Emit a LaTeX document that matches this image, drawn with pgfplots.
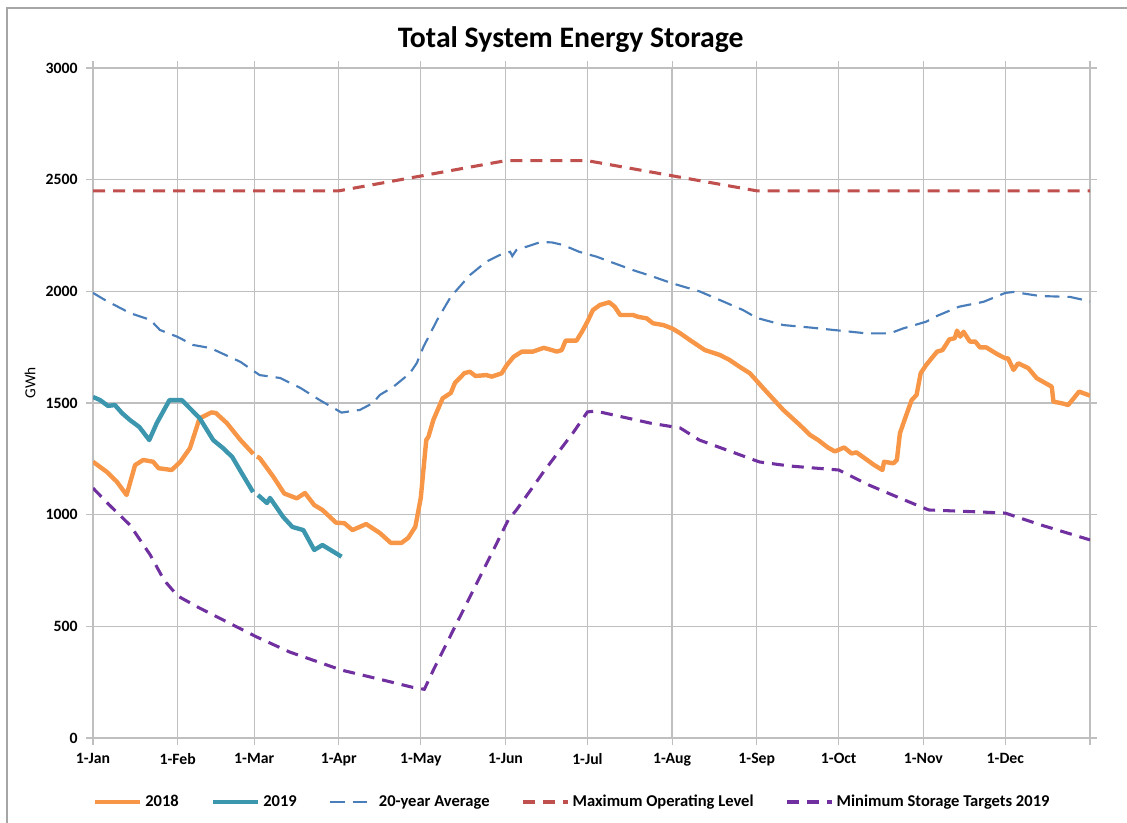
\documentclass[border=0pt]{standalone}
\usepackage{fontspec}
\setmainfont{Carlito}
\usepackage{pgfplots}
\pgfplotsset{compat=1.18}
\definecolor{c2018}{HTML}{F79646}
\definecolor{c2019}{HTML}{3C97AE}
\definecolor{cavg}{HTML}{4A7EBB}
\definecolor{cmax}{HTML}{C0504D}
\definecolor{cmin}{HTML}{7030A0}
\definecolor{gridc}{HTML}{BFBFBF}
\definecolor{framec}{HTML}{A6A6A6}
\begin{document}
\begin{tikzpicture}
\useasboundingbox (0,0) rectangle (845.25pt,616.5pt);
\draw[framec,line width=1.3pt] (5.25pt,-1pt) -- (5.25pt,610.5pt) -- (846pt,610.5pt);
\node[font=\bfseries\fontsize{22.3}{26}\selectfont] at (428pt,586.5pt) {Total System Energy Storage};
\begin{axis}[
  at={(69.75pt,63pt)}, anchor=south west,
  scale only axis, width=747.75pt, height=502.5pt,
  xmin=0, xmax=365, ymin=0, ymax=3000,
  xtick={0,31,59,90,120,151,181,212,243,273,304,334,365},
  xticklabels={1-Jan,1-Feb,1-Mar,1-Apr,1-May,1-Jun,1-Jul,1-Aug,1-Sep,1-Oct,1-Nov,1-Dec,},
  ytick={0,500,1000,1500,2000,2500,3000},
  /pgf/number format/assume math mode=true,
  /pgf/number format/1000 sep={},
  ticklabel style={font=\bfseries\fontsize{11.8}{14}\selectfont},
  xticklabel style={yshift=-3pt},
  yticklabel style={xshift=-3pt},
  tick align=outside, major tick length=5pt,
  tick style={gridc, line width=0.8pt},
  grid=major, grid style={gridc, line width=0.9pt},
  axis line style={gridc, line width=0.9pt},
  ylabel={GWh},
  ylabel style={at={(axis description cs:-0.063,0.53)}, anchor=center, font=\fontsize{11.5}{13}\selectfont},
  unbounded coords=jump,
  legend columns=5,
  legend style={at={(axis description cs:0.481,-0.0955)}, anchor=center, draw=none, fill=none,
    font=\bfseries\fontsize{12.4}{14}\selectfont, /tikz/every even column/.append style={column sep=22pt}},
  legend image code/.code={\draw[#1] plot coordinates {(0pt,0pt) (17pt,0pt) (34pt,0pt)};},
  clip=true,
]
\addplot[c2018, line width=3.3pt, line join=round] coordinates {
(0,1237)(5,1192)(8.7,1148)(12.3,1088)(15.4,1222)(18.4,1245)(22,1237)(24,1208)(28.8,1200)(32,1237)
(35.5,1298)(39,1431)(43.4,1458)(45,1455)(49,1410)(54,1334)(58.7,1272)(59,nan)(60,1260)(61,1254)(66,1170)
(70,1095)(74.6,1073)(77.6,1097)(81,1043)(84,1021)(89,964)(92,962)(95,931)(100,958)(105,918)
(109,874)(113,874)(115.4,896)(118,946)(120,1075)(122,1334)(122.8,1349)(124.6,1424)(128,1521)(131,1545)
(132.5,1590)(136,1634)(138,1640)(140,1621)(144,1625)(146,1618)(149.6,1633)(151.5,1670)(154,1707)(157,1730)
(161,1730)(165,1747)(168,1737)(169.8,1730)(171.6,1737)(173,1779)(177,1779)(179,1819)(181,1864)(183,1916)
(185.6,1939)(189,1951)(191,1931)(193,1894)(197.7,1894)(199.5,1886)(202.7,1879)(205,1857)(208.8,1849)(212,1834)
(215,1812)(218.5,1782)(224,1737)(229.5,1715)(233,1693)(237,1660)(240.5,1633)(245.4,1566)(252.7,1469)(258.8,1401)
(262.5,1357)(265.5,1334)(269,1301)(271.6,1283)(275,1301)(277.7,1274)(279.5,1279)(282.6,1252)(286,1222)(289,1200)
(289.6,1237)(293,1230)(294.3,1245)(295.4,1364)(297.3,1431)(299.7,1513)(301.5,1536)(303,1633)(305,1670)(309,1730)
(311,1737)(313.5,1785)(315.5,1790)(316.3,1824)(317.5,1797)(318.7,1819)(321,1775)(323,1775)(324.7,1749)(327,1749)
(331,1719)(334,1700)(335,1700)(337,1648)(338.7,1678)(342.4,1656)(345.5,1611)(351,1573)(351.6,1506)(354.6,1499)
(357,1491)(358.5,1513)(361,1551)(365,1533)
};
\addlegendentry{2018}
\addplot[c2019, line width=3.3pt, line join=round] coordinates {
(0,1527)(2.6,1513)(5.5,1487)(8,1491)(10.6,1455)(13.5,1424)(17,1392)(20.6,1334)(23.3,1409)(28,1513)
(32.5,1513)(39,1433)(44,1334)(47.6,1298)(51,1258)(54.4,1187)(58.6,1101)(59,nan)(60.4,1088)(63.7,1052)
(64.8,1075)(69.6,990)(73,945)(77,931)(81,842)(84,864)(91,812)
};
\addlegendentry{2019}
\addplot[cavg, line width=1.6pt, dash pattern=on 11pt off 6pt] coordinates {
(0,1993)(4.4,1961)(13.5,1903)(21,1872)(24.5,1827)(31,1796)(36.6,1760)(43,1746)(54,1684)(61,1625)
(68.5,1612)(76,1567)(83,1513)(91,1457)(97.7,1469)(102.5,1500)(105,1536)(110,1573)(116,1633)(118.5,1678)
(121,1752)(126,1872)(131,1976)(138,2073)(144,2133)(149,2163)(152.7,2177)(153.5,2158)(155,2185)(160,2205)
(164,2221)(168,2219)(172,2208)(178,2177)(184.4,2155)(191,2125)(197.7,2095)(205,2066)(212,2036)(222,2000)
(229.5,1961)(238,1916)(243,1881)(252.7,1849)(262.5,1838)(273.5,1824)(283,1812)(291.8,1812)(296.6,1834)(305,1864)
(309,1890)(317,1931)(326,1953)(334,1993)(337,1997)(346.7,1979)(357.7,1975)(365,1955)
};
\addlegendentry{20-year Average}
\addplot[cmax, line width=2.3pt, dash pattern=on 9pt off 6pt] coordinates {
(0,2450)(90,2450)(151,2585)(181,2585)(243,2450)(365,2450)
};
\addlegendentry{Maximum Operating Level}
\addplot[cmin, line width=2.3pt, dash pattern=on 9pt off 6pt] coordinates {
(0,1119)(6,1043)(13.5,954)(21,819)(26,707)(31,636)(39,582)(60,452)(72,385)(91,304)
(106,260)(117,227)(121.3,218)(124.6,304)(132.5,498)(140.5,693)(147.8,872)(152,976)(155,1021)(161.8,1137)
(165,1193)(171,1290)(176,1371)(181,1460)(184,1464)(204,1410)(215,1388)(222,1334)(244,1236)(255,1218)
(273,1200)(284,1133)(297,1066)(306,1021)(325,1012)(334,1007)(347,954)(365,887)
};
\addlegendentry{Minimum Storage Targets 2019}
\end{axis}
\end{tikzpicture}
\end{document}
